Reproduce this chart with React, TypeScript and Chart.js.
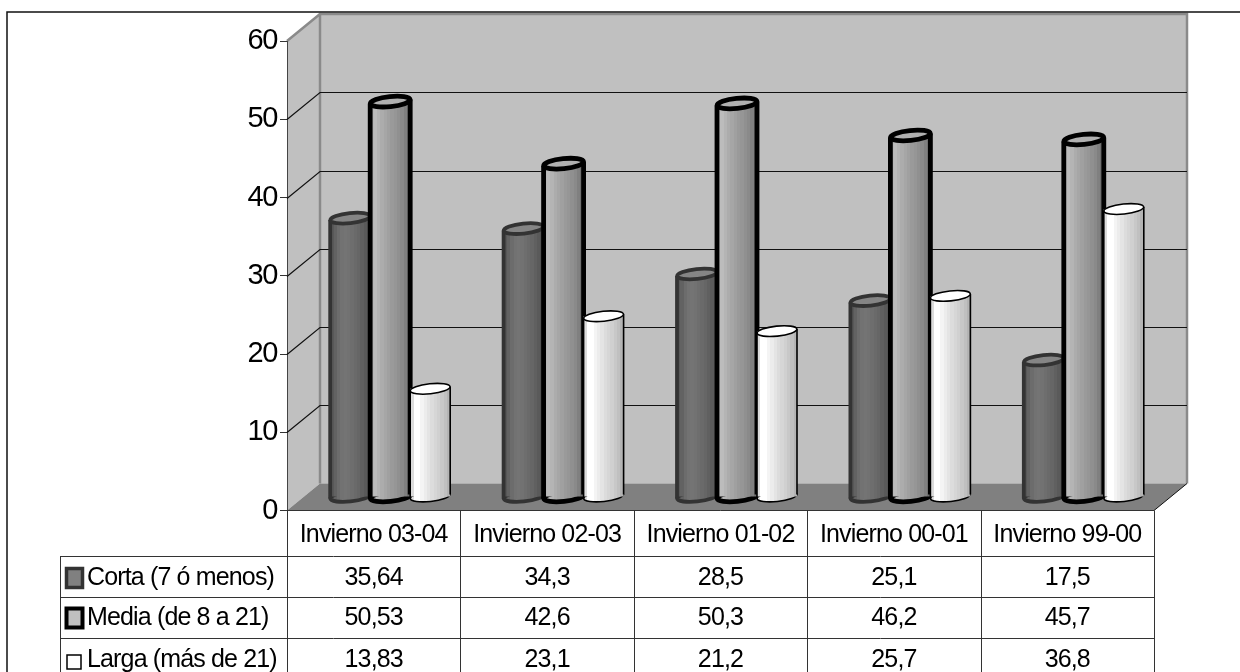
import React, { useEffect, useRef } from "react";
import { Chart, registerables } from "chart.js";

Chart.register(...registerables);

const categories = ["Invierno 03-04", "Invierno 02-03", "Invierno 01-02", "Invierno 00-01", "Invierno 99-00"];
const corta = [35.64, 34.3, 28.5, 25.1, 17.5];
const media = [50.53, 42.6, 50.3, 46.2, 45.7];
const larga = [13.83, 23.1, 21.2, 25.7, 36.8];
const seriesNames = ["Corta (7 ó menos)", "Media (de 8 a 21)", "Larga (más de 21)"];
const yTicks = [0, 10, 20, 30, 40, 50, 60];

const FONT = '"Liberation Sans", Arial, sans-serif';
const DEPTH_X = 33;
const DEPTH_Y = 27;

// Per-series cylinder look: shading bands left to right, cap fill and outline.
const looks = [
  { bands: [0x58, 0x62, 0x6c, 0x72, 0x74, 0x72, 0x6e, 0x6a, 0x66, 0x60, 0x5a, 0x54], cap: "#858585", line: "#333333", lw: 3.8 },
  { bands: [0xb8, 0xbc, 0xb4, 0xac, 0xa6, 0xa0, 0x9a, 0x96, 0x90, 0x8a, 0x80, 0x70], cap: "#b0b0b0", line: "#000000", lw: 4.8 },
  { bands: [0xdc, 0xff, 0xff, 0xf4, 0xec, 0xe4, 0xdc, 0xd6, 0xd0, 0xc8, 0xc0, 0xb4], cap: "#ffffff", line: "#000000", lw: 1.6 },
];

const hex = (v: number) => `rgb(${v},${v},${v})`;
const fmt = (v: number) => String(v).replace(".", ",");

function bandedFill(ctx: CanvasRenderingContext2D, left: number, right: number, bands: number[]) {
  const g = ctx.createLinearGradient(left, 0, right, 0);
  bands.forEach((b, i) => {
    g.addColorStop(i / bands.length, hex(b));
    g.addColorStop((i + 1) / bands.length, hex(b));
  });
  return g;
}

// Back wall, side wall and floor of the 3D box.
const boxPlugin = {
  id: "box",
  beforeDraw(chart: any) {
    const { ctx, chartArea: a } = chart;
    ctx.letterSpacing = "-1.4px";
    ctx.save();
    ctx.fillStyle = "#ffffff";
    ctx.fillRect(0, 0, chart.width, chart.height);
    const x0 = a.left, x1 = a.right, y0 = a.top, y1 = a.bottom;
    ctx.fillStyle = "#c0c0c0";
    ctx.fillRect(x0 + DEPTH_X, y0 - DEPTH_Y, x1 - x0, y1 - y0);
    ctx.beginPath();
    ctx.moveTo(x0, y0);
    ctx.lineTo(x0 + DEPTH_X, y0 - DEPTH_Y);
    ctx.lineTo(x0 + DEPTH_X, y1 - DEPTH_Y);
    ctx.lineTo(x0, y1);
    ctx.closePath();
    ctx.fill();
    ctx.fillStyle = "#808080";
    ctx.beginPath();
    ctx.moveTo(x0, y1);
    ctx.lineTo(x0 + DEPTH_X, y1 - DEPTH_Y);
    ctx.lineTo(x1 + DEPTH_X, y1 - DEPTH_Y);
    ctx.lineTo(x1, y1);
    ctx.closePath();
    ctx.fill();
    ctx.strokeStyle = "#8a8a8a";
    ctx.lineWidth = 2.5;
    ctx.beginPath();
    ctx.moveTo(x0 + DEPTH_X, y1 - DEPTH_Y);
    ctx.lineTo(x0 + DEPTH_X, y0 - DEPTH_Y);
    ctx.lineTo(x1 + DEPTH_X, y0 - DEPTH_Y);
    ctx.lineTo(x1 + DEPTH_X, y1 - DEPTH_Y);
    ctx.moveTo(x0, y0);
    ctx.lineTo(x0 + DEPTH_X, y0 - DEPTH_Y);
    ctx.stroke();
    ctx.strokeStyle = "#111111";
    ctx.lineWidth = 1;
    ctx.beginPath();
    ctx.moveTo(x1, y1);
    ctx.lineTo(x1 + DEPTH_X, y1 - DEPTH_Y);
    ctx.stroke();
    ctx.restore();
  },
  beforeDatasetsDraw(chart: any) {
    const { ctx, chartArea: a, scales } = chart;
    // Category labels and table cells are set a little looser than the value axis.
    ctx.letterSpacing = "-0.85px";
    ctx.save();
    // Gridlines run along the side wall and across the back wall.
    ctx.strokeStyle = "#111111";
    ctx.lineWidth = 1.2;
    yTicks.slice(1, -1).forEach((v) => {
      const y = Math.round(scales.y.getPixelForValue(v)) + 0.5;
      ctx.beginPath();
      ctx.moveTo(a.left, y);
      ctx.lineTo(a.left + DEPTH_X, y - DEPTH_Y);
      ctx.lineTo(a.right + DEPTH_X, y - DEPTH_Y);
      ctx.stroke();
    });
    // Cylinders stand halfway into the box, painted in series order.
    ctx.translate(DEPTH_X / 2, -DEPTH_Y / 2);
    chart.getSortedVisibleDatasetMetas().forEach((meta: any, si: number) => {
      const look = looks[si];
      meta.data.forEach((el: any) => {
        const { x, y, base, width } = el.getProps(["x", "y", "base", "width"]);
        const left = x - width / 2;
        const right = x + width / 2;
        const fill = bandedFill(ctx, left, right, look.bands);
        const tilt = (-6 * Math.PI) / 180;
        ctx.lineWidth = look.lw;
        ctx.strokeStyle = look.line;
        ctx.fillStyle = fill;
        ctx.beginPath();
        ctx.ellipse(x, base, width / 2, 5, tilt, 0, Math.PI * 2);
        ctx.fill();
        ctx.stroke();
        el.options = { ...el.options, backgroundColor: fill, borderWidth: 0 };
        el.draw(ctx);
        ctx.beginPath();
        ctx.moveTo(left, y + 2);
        ctx.lineTo(left, base + 2);
        ctx.moveTo(right, y - 2);
        ctx.lineTo(right, base - 2);
        ctx.stroke();
        ctx.fillStyle = look.cap;
        ctx.beginPath();
        ctx.ellipse(x, y, width / 2, 5, tilt, 0, Math.PI * 2);
        ctx.fill();
        ctx.stroke();
      });
    });
    ctx.restore();
    return false;
  },
};

// Data table under the plot: row keys, row values and the cell rules.
const tablePlugin = {
  id: "dataTable",
  afterDraw(chart: any) {
    const { ctx, chartArea: a, scales } = chart;
    const rowRules = [556, 597, 638];
    const rowText = [578, 618, 660];
    const tableLeft = 60;
    const cols = categories.length;
    const colW = (a.right - a.left) / cols;
    const rows = [corta, media, larga];
    ctx.save();
    ctx.strokeStyle = "#333333";
    ctx.lineWidth = 1;
    ctx.beginPath();
    ctx.moveTo(a.left, a.bottom);
    ctx.lineTo(a.right, a.bottom);
    for (let i = 0; i <= cols; i++) {
      const x = Math.round(a.left + colW * i) + 0.5;
      ctx.moveTo(x, a.bottom);
      ctx.lineTo(x, chart.height);
    }
    rowRules.forEach((y) => {
      ctx.moveTo(tableLeft, y + 0.5);
      ctx.lineTo(a.right, y + 0.5);
    });
    ctx.moveTo(tableLeft + 0.5, rowRules[0]);
    ctx.lineTo(tableLeft + 0.5, chart.height);
    ctx.stroke();

    ctx.strokeStyle = "#111111";
    ctx.lineWidth = 1.5;
    ctx.beginPath();
    ctx.moveTo(7, chart.height);
    ctx.lineTo(7, 12);
    ctx.lineTo(chart.width, 12);
    ctx.stroke();

    ctx.font = `25px ${FONT}`;
    ctx.fillStyle = "#000000";
    ctx.textBaseline = "middle";
    rows.forEach((row, r) => {
      const cy = rowText[r];
      ctx.textAlign = "center";
      row.forEach((v, c) => {
        ctx.fillText(fmt(v), scales.x.getPixelForValue(c), cy);
      });
      ctx.textAlign = "left";
      ctx.fillText(seriesNames[r], 87, cy);
      const look = looks[r];
      const box = r === 2 ? [67, cy - 5, 14, 14] : [66.5, cy - 9.5, 16, 19];
      ctx.fillStyle = r === 2 ? "#ffffff" : r === 0 ? "#808080" : "#c0c0c0";
      ctx.strokeStyle = look.line;
      ctx.lineWidth = r === 2 ? 1.5 : r === 0 ? 3.5 : 4;
      ctx.fillRect(box[0], box[1], box[2], box[3]);
      ctx.strokeRect(box[0], box[1], box[2], box[3]);
      ctx.fillStyle = "#000000";
    });
    ctx.restore();
  },
};

export default function App() {
  const ref = useRef<HTMLCanvasElement>(null);
  useEffect(() => {
    document.body.style.margin = "0";
    const chart = new Chart(ref.current as HTMLCanvasElement, {
      type: "bar",
      data: {
        labels: categories,
        datasets: [
          { label: seriesNames[0], data: corta, backgroundColor: "#6a6a6a" },
          { label: seriesNames[1], data: media, backgroundColor: "#a0a0a0" },
          { label: seriesNames[2], data: larga, backgroundColor: "#e8e8e8" },
        ],
      },
      plugins: [boxPlugin, tablePlugin],
      options: {
        responsive: false,
        animation: false,
        layout: { padding: { top: 41, right: 86, left: 0, bottom: 0 } },
        categoryPercentage: 0.692,
        barPercentage: 1,
        plugins: { legend: { display: false }, tooltip: { enabled: false } },
        scales: {
          x: {
            afterFit: (s: any) => { s.height = 161.5; },
            grid: { display: false },
            border: { display: false },
            ticks: {
              z: 1,
              autoSkip: false,
              maxRotation: 0,
              padding: 2,
              color: "#000000",
              font: { family: FONT, size: 25 },
            },
          },
          y: {
            min: 0,
            max: 60,
            afterFit: (s: any) => { s.width = 287; },
            afterBuildTicks: (s: any) => { s.ticks = yTicks.map((value) => ({ value })); },
            grid: { drawOnChartArea: false, tickLength: 7, color: "#333333" },
            border: { color: "#444444", width: 1 },
            ticks: {
              padding: 3,
              color: "#000000",
              font: { family: FONT, size: 29 },
            },
          },
        },
      } as any,
    });
    return () => chart.destroy();
  }, []);
  return (
    <div style={{ position: "absolute", left: 0, top: 0, width: 1240, height: 672 }}>
      <canvas ref={ref} width={1240} height={672} style={{ display: "block" }} />
    </div>
  );
}
